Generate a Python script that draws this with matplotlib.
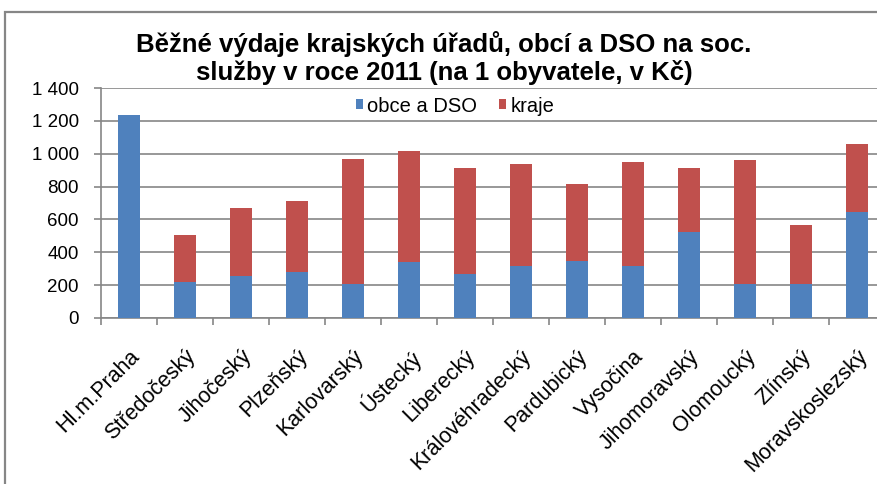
import matplotlib
matplotlib.use("Agg")
import matplotlib.pyplot as plt
from matplotlib.patches import Rectangle
import numpy as np

plt.rcParams['font.family'] = ['Liberation Sans', 'DejaVu Sans']

categories = ["Hl.m.Praha", "Středočeský", "Jihočeský", "Plzeňský", "Karlovarský",
              "Ústecký", "Liberecký", "Královéhradecký", "Pardubický", "Vysočina",
              "Jihomoravský", "Olomoucký", "Zlínský", "Moravskoslezský"]
obce_dso = [1237, 222, 255, 283, 206, 340, 267, 316, 350, 316, 522, 210, 206, 644]
kraje = [0, 281, 413, 428, 762, 677, 646, 621, 465, 634, 391, 752, 359, 416]
ytick_values = [0, 200, 400, 600, 800, 1000, 1200, 1400]
ytick_labels = ["0", "200", "400", "600", "800", "1 000", "1 200", "1 400"]
title = "Běžné výdaje krajských úřadů, obcí a DSO na soc.\nslužby v roce 2011 (na 1 obyvatele, v Kč)"
series_names = ["obce a DSO", "kraje"]

W, H = 877, 484
fig = plt.figure(figsize=(W / 100, H / 100), dpi=100)

# chart area border (cut on right and bottom)
fig.patches.append(Rectangle((5 / W, -0.1), 1.2, 1 - 12 / H + 0.1, transform=fig.transFigure,
                             fill=False, edgecolor='#868686', linewidth=1.6, zorder=0))

left, bottom, top = 101 / W, 1 - 318 / H, 1 - 88 / H
width = 14 * 56 / W
ax = fig.add_axes([left, bottom, width, top - bottom])

x = np.arange(len(categories))
blue, red = '#4F81BD', '#C0504D'
ax.bar(x, obce_dso, width=0.41, color=blue, label=series_names[0], zorder=3)
ax.bar(x, kraje, width=0.41, bottom=obce_dso, color=red, label=series_names[1], zorder=3)

ax.set_xlim(-0.5, len(categories) - 0.5)
ax.set_ylim(0, 1400)
ax.set_yticks(ytick_values)
ax.set_yticklabels(ytick_labels, fontsize=13.5)
ax.yaxis.grid(True, color='#868686', linewidth=1.2, zorder=0)
ax.set_axisbelow(True)

for s in ['top', 'right']:
    ax.spines[s].set_visible(False)
for s in ['left', 'bottom']:
    ax.spines[s].set_color('#868686')
    ax.spines[s].set_linewidth(1.2)

ax.tick_params(axis='y', length=5, color='#868686', pad=11, width=1.2)
ax.set_xticks(x)
ax.set_xticklabels(categories, rotation=45, ha='right', rotation_mode='anchor', fontsize=15.5)
ax.tick_params(axis='x', length=0, pad=20)
ax.set_xticks(np.arange(-0.5, len(categories), 1), minor=True)
ax.tick_params(axis='x', which='minor', length=5, color='#868686', width=1.2)

fig.text(444 / W, 1 - 58 / H, title, ha='center', va='center', fontsize=18.5,
         fontweight='bold', linespacing=1.15)

fig.legend(loc='center', bbox_to_anchor=(455 / W, 1 - 106 / H), ncol=2, frameon=False,
           fontsize=14.5, handlelength=0.36, handleheight=0.36, handletextpad=0.2,
           columnspacing=1.1, borderpad=0)

fig.savefig("out.png", dpi=100)
